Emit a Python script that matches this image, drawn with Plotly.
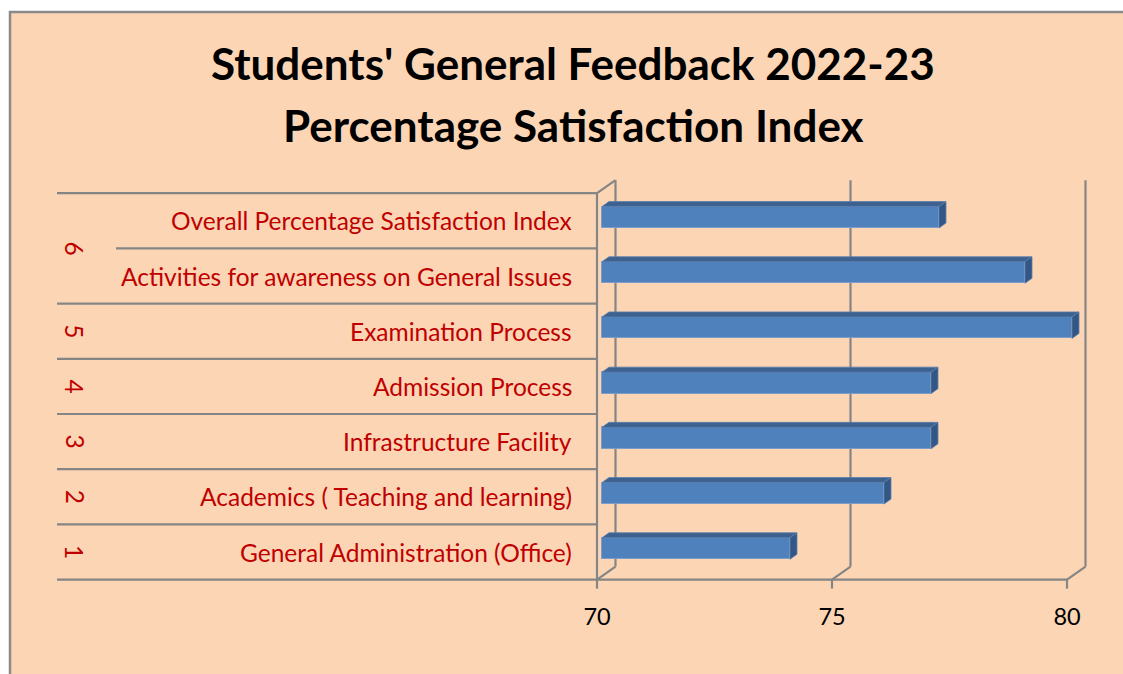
import plotly.graph_objects as go

# ---------------- data ----------------
categories = [
    "General Administration (Office)",
    "Academics ( Teaching and learning)",
    "Infrastructure Facility",
    "Admission Process",
    "Examination Process",
    "Activities for awareness on General Issues",
    "Overall Percentage Satisfaction Index",
]
groups = ["1", "2", "3", "4", "5", "6", "6"]
values = [74.0, 76.0, 77.0, 77.0, 80.0, 79.0, 77.17]
x_ticks = [70, 75, 80]
x_min = 70
title_lines = ["Students' General Feedback 2022-23", "Percentage Satisfaction Index"]

# ---------------- geometry ----------------
W, H = 1123, 674
PL, PR, PT, PB = 590, 1100, 172, 592      # plot area in px
X0_PX, XS = 602.0, 47.0                   # px of x_min on bar plane, px per unit
Y0_PX, YS = 548.5, 55.2                   # px of first row centre, px per row

xr = [x_min - (X0_PX - PL) / XS, x_min + (PR - X0_PX) / XS]
yr = [-(PB - Y0_PX) / YS, (Y0_PX - PT) / YS]


def dxu(px):
    return px / XS


def dyu(px):  # up positive
    return px / YS


def paper_x(px):
    return (px - PL) / (PR - PL)


def paper_y(py):
    return (PB - py) / (PB - PT)


FX, FY = dxu(-5), dyu(-3.5)      # front plane offset
BX, BY = dxu(13.5), dyu(9.5)     # back plane offset
BDX, BDY = dxu(7), dyu(5)        # bar depth
BAR_W = 0.39

PEACH = "#FCD5B5"
GRAY = "#858585"
RED = "#C00000"
FRONT = "#4F81BD"
TOP = "#3D628F"
SIDE = "#325785"
FONT = "Lato"

n = len(categories)
idx = list(range(n))
x_lo, x_hi = x_ticks[0], x_ticks[-1]

shapes = []

# outer chart frame
shapes.append(dict(type="rect", xref="paper", yref="paper",
                   x0=paper_x(10), x1=paper_x(1200), y0=paper_y(12), y1=paper_y(760),
                   fillcolor=PEACH, line=dict(color="#8A8A8A", width=2.5), layer="below"))


def line(x0, y0, x1, y1, xref="x", yref="y", width=2.2, layer="below"):
    shapes.append(dict(type="line", xref=xref, yref=yref, x0=x0, y0=y0, x1=x1, y1=y1,
                       line=dict(color=GRAY, width=width), layer=layer))


bot, top = -0.5, n - 0.5
# back wall gridlines
for v in x_ticks:
    line(v + BX, bot + BY, v + BX, top + BY)
# floor diagonals
for v in x_ticks:
    line(v + FX, bot + FY, v + BX, bot + BY)
# top-left diagonal
line(x_lo + FX, top + FY, x_lo + BX, top + BY)
# front left wall
line(x_lo + FX, bot + FY, x_lo + FX, top + FY)
# front floor line
line(x_lo + FX, bot + FY, x_hi + FX, bot + FY)
# tick marks
for v in x_ticks:
    line(v + FX, bot + FY, v + FX, bot + FY + dyu(-9))
# category divider lines (extend into label area)
wall_px = X0_PX - 5
for k in range(n + 1):
    b = k - 0.5 + FY
    if k in (0, n) or groups[k - 1] != groups[k]:
        start = 57
    else:
        start = 116
    line(paper_x(start), b, paper_x(wall_px), b, xref="paper", yref="y")

# 3D faces of bars
for i, v in zip(idx, values):
    h = BAR_W / 2
    top_path = (f"M {x_min},{i + h} L {v},{i + h} L {v + BDX},{i + h + BDY} "
                f"L {x_min + BDX},{i + h + BDY} Z")
    side_path = (f"M {v},{i - h} L {v},{i + h} L {v + BDX},{i + h + BDY} "
                 f"L {v + BDX},{i - h + BDY} Z")
    shapes.append(dict(type="path", xref="x", yref="y", path=top_path,
                       fillcolor=TOP, line=dict(color="#5A7FAE", width=0.8), layer="above"))
    shapes.append(dict(type="path", xref="x", yref="y", path=side_path,
                       fillcolor=SIDE, line=dict(color="#5A7FAE", width=0.8), layer="above"))

fig = go.Figure()
fig.add_trace(go.Bar(
    y=idx, x=[v - x_min for v in values], base=x_min, orientation="h",
    width=BAR_W, marker=dict(color=FRONT, line=dict(color="#7C9DC9", width=1)),
    hoverinfo="skip", showlegend=False,
))

annotations = []
# category labels
for i, c in zip(idx, categories):
    annotations.append(dict(xref="x", yref="y", x=x_min + FX, y=i + FY, text=c,
                            xanchor="right", yanchor="middle", xshift=-23, showarrow=False,
                            font=dict(family=FONT, size=24.5, color=RED)))
# group numbers (rotated)
seen = []
for g in groups:
    if g not in seen:
        seen.append(g)
for g in seen:
    members = [i for i, gg in zip(idx, groups) if gg == g]
    yc = sum(members) / len(members)
    annotations.append(dict(xref="paper", yref="y", x=paper_x(75), y=yc + FY, text=g,
                            textangle=90, xanchor="center", yanchor="middle", showarrow=False,
                            font=dict(family=FONT, size=24.5, color=RED)))
# title
for t, py in zip(title_lines, [63, 125]):
    annotations.append(dict(xref="paper", yref="paper", x=paper_x(573), y=paper_y(py), text=f"<b>{t}</b>",
                            xanchor="center", yanchor="middle", showarrow=False,
                            font=dict(family=FONT, size=44, color="black")))

fig.update_layout(
    width=W, height=H, autosize=False,
    margin=dict(l=PL, r=W - PR, t=PT, b=H - PB, pad=0),
    paper_bgcolor="white", plot_bgcolor="rgba(0,0,0,0)",
    shapes=shapes, annotations=annotations,
    xaxis=dict(range=xr, tickvals=x_ticks, ticks="", showgrid=False, zeroline=False,
               showline=False, ticklabelshift=-5, ticklabelstandoff=8,
               tickfont=dict(family=FONT, size=23.5, color="black"), fixedrange=True),
    yaxis=dict(range=yr, visible=False, showgrid=False, zeroline=False, fixedrange=True),
    bargap=0,
)

fig.write_html("out.html", config={"displayModeBar": False},
               post_script="document.body.style.margin='0';document.body.style.overflow='hidden';")
